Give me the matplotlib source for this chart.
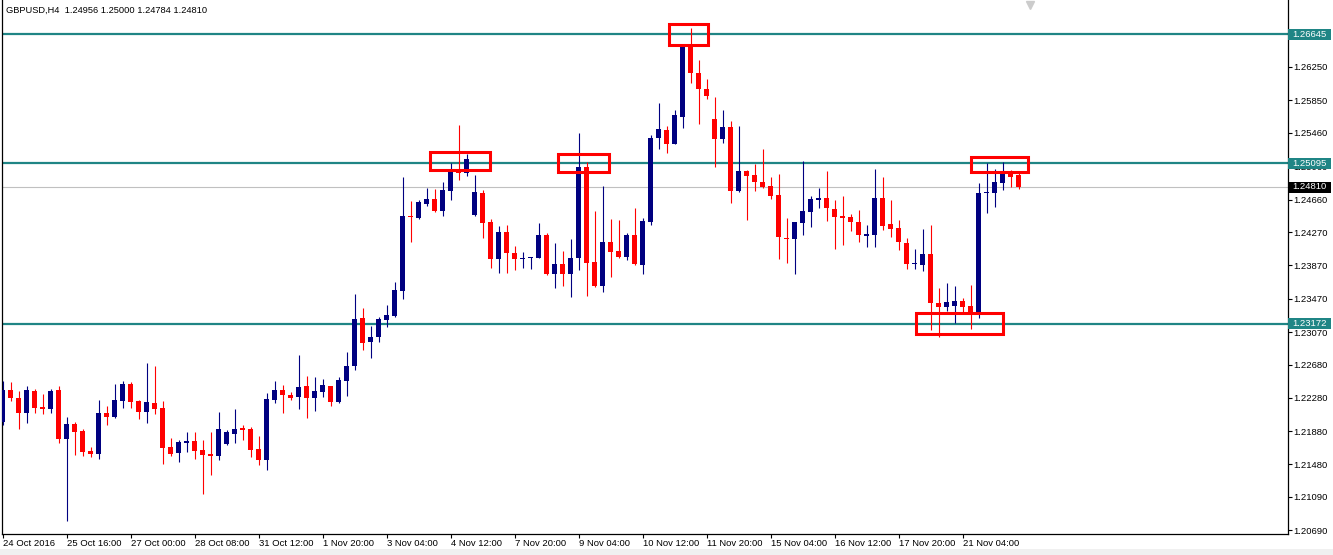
import numpy as np
import matplotlib
matplotlib.use("Agg")
import matplotlib.pyplot as plt
from matplotlib.patches import Rectangle
from matplotlib.transforms import blended_transform_factory

# ---- GBPUSD H4 candles (open, high, low, close) ----
opens = [
    1.21994, 1.22374, 1.22282, 1.22094, 1.22366, 1.22170, 1.22146, 1.22374, 1.21786, 1.21966,
    1.21886, 1.21646, 1.21602, 1.22102, 1.22054, 1.22246, 1.22446, 1.22242, 1.22114, 1.22214,
    1.22154, 1.21686, 1.21614, 1.21742, 1.21766, 1.21654, 1.21606, 1.21586, 1.21722, 1.21846,
    1.21914, 1.21910, 1.21670, 1.21530, 1.22254, 1.22374, 1.22314, 1.22286, 1.22422, 1.22282,
    1.22354, 1.22422, 1.22226, 1.22486, 1.22662, 1.23234, 1.22950, 1.23006, 1.23214, 1.23262,
    1.23566, 1.24462, 1.24434, 1.24606, 1.24666, 1.24526, 1.24766, 1.24994, 1.24974, 1.24474,
    1.24742, 1.24394, 1.23940, 1.24274, 1.24018, 1.23946, 1.23954, 1.23962, 1.24234, 1.23762,
    1.23886, 1.23762, 1.23954, 1.25046, 1.23904, 1.23626, 1.24154, 1.24042, 1.23970, 1.24234,
    1.23880, 1.24384, 1.25394, 1.25494, 1.25326, 1.25654, 1.26514, 1.26174, 1.25982, 1.25626,
    1.25382, 1.25534, 1.24766, 1.25002, 1.24954, 1.24874, 1.24822, 1.24714, 1.24202, 1.24182,
    1.24374, 1.24514, 1.24654, 1.24674, 1.24546, 1.24462, 1.24454, 1.24394, 1.24226, 1.24234,
    1.24682, 1.24366, 1.24314, 1.24142, 1.23882, 1.23874, 1.24006, 1.23414, 1.23374, 1.23386,
    1.23442, 1.23386, 1.23306, 1.24734, 1.24742, 1.24862, 1.24986, 1.24956,
]
highs = [
    1.22486, 1.22474, 1.22362, 1.22426, 1.22382, 1.22322, 1.22382, 1.22426, 1.22054, 1.21994,
    1.21902, 1.21686, 1.22254, 1.22182, 1.22442, 1.22486, 1.22474, 1.22254, 1.22702, 1.22666,
    1.22246, 1.21802, 1.21774, 1.21866, 1.21866, 1.21774, 1.21866, 1.22114, 1.21894, 1.22142,
    1.21954, 1.21926, 1.21822, 1.22342, 1.22486, 1.22434, 1.22354, 1.22794, 1.22542, 1.22534,
    1.22510, 1.22426, 1.22534, 1.22826, 1.23526, 1.23354, 1.23136, 1.23254, 1.23394, 1.23666,
    1.24926, 1.24646, 1.24654, 1.24794, 1.24786, 1.24874, 1.25094, 1.25554, 1.25202, 1.24954,
    1.24774, 1.24430, 1.24342, 1.24354, 1.24102, 1.24034, 1.23974, 1.24382, 1.24262, 1.24142,
    1.24042, 1.24182, 1.25462, 1.25114, 1.24522, 1.24826, 1.24426, 1.24414, 1.24262, 1.24554,
    1.24434, 1.25440, 1.25822, 1.25542, 1.25734, 1.26526, 1.26714, 1.26334, 1.26102, 1.25894,
    1.25734, 1.25606, 1.25542, 1.25014, 1.25086, 1.25266, 1.24934, 1.24966, 1.24442, 1.24394,
    1.25122, 1.24706, 1.24802, 1.25002, 1.24654, 1.24706, 1.24482, 1.24534, 1.24354, 1.25026,
    1.24934, 1.24654, 1.24414, 1.24194, 1.24066, 1.24302, 1.24354, 1.23602, 1.23662, 1.23622,
    1.23482, 1.23634, 1.24854, 1.25094, 1.25026, 1.25114, 1.25014, 1.25000,
]
lows = [
    1.21954, 1.22246, 1.21906, 1.21982, 1.22094, 1.22082, 1.22102, 1.21734, 1.20806, 1.21594,
    1.21586, 1.21574, 1.21546, 1.21954, 1.22038, 1.22162, 1.22162, 1.22022, 1.21982, 1.22086,
    1.21482, 1.21586, 1.21514, 1.21634, 1.21546, 1.21126, 1.21354, 1.21534, 1.21714, 1.21734,
    1.21774, 1.21566, 1.21474, 1.21414, 1.22214, 1.22094, 1.22254, 1.22146, 1.22042, 1.22122,
    1.22294, 1.22182, 1.22218, 1.22306, 1.22614, 1.22850, 1.22758, 1.22954, 1.23126, 1.23246,
    1.23462, 1.24154, 1.24422, 1.24582, 1.24514, 1.24466, 1.24654, 1.24894, 1.24946, 1.24466,
    1.24194, 1.23832, 1.23778, 1.23778, 1.23814, 1.23834, 1.23826, 1.23954, 1.23754, 1.23594,
    1.23622, 1.23494, 1.23820, 1.23508, 1.23614, 1.23554, 1.23734, 1.23958, 1.23934, 1.23874,
    1.23766, 1.24354, 1.25262, 1.25214, 1.25320, 1.25514, 1.26054, 1.25566, 1.25866, 1.25054,
    1.25334, 1.24614, 1.24754, 1.24414, 1.24762, 1.24794, 1.24666, 1.23946, 1.23902, 1.23766,
    1.24234, 1.24334, 1.24562, 1.24406, 1.24066, 1.24114, 1.24282, 1.24146, 1.24094, 1.24094,
    1.24294, 1.24206, 1.24054, 1.23822, 1.23826, 1.23802, 1.23094, 1.23006, 1.23322, 1.23174,
    1.23314, 1.23102, 1.23234, 1.24502, 1.24574, 1.24774, 1.24814, 1.24784,
]
closes = [
    1.22374, 1.22274, 1.22102, 1.22374, 1.22162, 1.22146, 1.22362, 1.21786, 1.21966, 1.21874,
    1.21634, 1.21606, 1.22102, 1.22054, 1.22254, 1.22446, 1.22234, 1.22114, 1.22234, 1.22146,
    1.21674, 1.21606, 1.21750, 1.21766, 1.21646, 1.21598, 1.21586, 1.21906, 1.21874, 1.21910,
    1.21898, 1.21658, 1.21530, 1.22266, 1.22374, 1.22310, 1.22282, 1.22406, 1.22282, 1.22362,
    1.22434, 1.22226, 1.22494, 1.22666, 1.23222, 1.22942, 1.23006, 1.23222, 1.23274, 1.23574,
    1.24462, 1.24446, 1.24634, 1.24666, 1.24526, 1.24774, 1.24994, 1.24974, 1.25142, 1.24754,
    1.24382, 1.23940, 1.24274, 1.24018, 1.23942, 1.23962, 1.23970, 1.24234, 1.23762, 1.23886,
    1.23762, 1.23962, 1.25046, 1.23904, 1.23626, 1.24154, 1.24034, 1.23970, 1.24234, 1.23882,
    1.24396, 1.25394, 1.25506, 1.25326, 1.25674, 1.26514, 1.26174, 1.25982, 1.25902, 1.25386,
    1.25534, 1.24766, 1.25002, 1.24946, 1.24874, 1.24806, 1.24706, 1.24206, 1.24182, 1.24386,
    1.24522, 1.24666, 1.24674, 1.24554, 1.24454, 1.24442, 1.24386, 1.24234, 1.24242, 1.24682,
    1.24346, 1.24306, 1.24154, 1.23882, 1.23902, 1.24006, 1.23414, 1.23374, 1.23426, 1.23442,
    1.23374, 1.23314, 1.24734, 1.24754, 1.24866, 1.24982, 1.24934, 1.24810,
]

# time axis labels, one every 8 bars
time_labels = ["24 Oct 2016", "25 Oct 16:00", "27 Oct 00:00", "28 Oct 08:00",
               "31 Oct 12:00", "1 Nov 20:00", "3 Nov 04:00", "4 Nov 12:00",
               "7 Nov 20:00", "9 Nov 04:00", "10 Nov 12:00", "11 Nov 20:00",
               "15 Nov 04:00", "16 Nov 12:00", "17 Nov 20:00", "21 Nov 04:00"]
label_step = 8

# price scale labels
price_ticks = [1.26250, 1.25850, 1.25460, 1.25060, 1.24660, 1.24270, 1.23870,
               1.23470, 1.23070, 1.22680, 1.22280, 1.21880, 1.21480, 1.21090, 1.20690]

# support / resistance levels and last price
levels = [1.26645, 1.25095, 1.23172]
last_price = 1.24810

# highlighted zones: bar range and price range
zone_start = [53.4, 69.4, 83.3, 114.1, 121.0]
zone_end = [60.9, 75.8, 88.1, 125.0, 128.1]
zone_low = [1.25014, 1.24994, 1.26514, 1.23046, 1.24994]
zone_high = [1.25226, 1.25206, 1.26762, 1.23294, 1.25174]

symbol_header = "GBPUSD,H4  1.24956 1.25000 1.24784 1.24810"

# ---- figure ----
W, H = 1333, 555
fig = plt.figure(figsize=(W / 100, H / 100), dpi=100)
fig.patch.set_facecolor("white")
fig.patches.append(Rectangle((0, 0), 1, 6 / H, transform=fig.transFigure,
                             facecolor="#f0f0f0", edgecolor="none", zorder=0))

ax_left, ax_right, ax_top, ax_bottom = 1.5, 1287.5, 0.0, 534.0
ax = fig.add_axes([ax_left / W, (H - ax_bottom) / H,
                   (ax_right - ax_left) / W, (ax_bottom - ax_top) / H])

FONT = "Liberation Sans"
FS = 6.8
BULL = "#000080"
BEAR = "#ff0000"
TEAL = "#1f8585"

o = np.array(opens); h = np.array(highs); l = np.array(lows); c = np.array(closes)
x = np.arange(len(o))
bull = c >= o
colors = np.where(bull, BULL, BEAR)

ax.vlines(x, l, h, colors=colors, linewidth=0.8, zorder=3)
body_bottom = np.minimum(o, c)
body_height = np.maximum(np.abs(c - o), 0.00011)
ax.bar(x, body_height, bottom=body_bottom, width=0.63, color=colors,
       linewidth=0, zorder=4)

# levels
for lv in levels:
    ax.axhline(lv, color=TEAL, linewidth=1.6, zorder=2)
ax.axhline(last_price, color="#c0c0c0", linewidth=0.8, zorder=1)

# highlighted zones
for xs, xe, lo, hi in zip(zone_start, zone_end, zone_low, zone_high):
    ax.add_patch(Rectangle((xs, lo), xe - xs, hi - lo, fill=False,
                           edgecolor="#ff0000", linewidth=2.2, zorder=6))

# scales: 8 px per bar, 0.00012 per px
px_per_bar = 8.0
x0_px = 2.7
ax.set_xlim((ax_left - x0_px) / px_per_bar, (ax_right - x0_px) / px_per_bar)
price_top = 1.27054
price_per_px = 0.00012
ax.set_ylim(price_top - price_per_px * ax_bottom, price_top - price_per_px * ax_top)

# x axis
ax.set_xticks(np.arange(len(time_labels)) * label_step)
ax.set_xticklabels(time_labels, fontsize=FS, family=FONT)
for t in ax.get_xticklabels():
    t.set_horizontalalignment("left")
ax.tick_params(axis="x", direction="out", length=3, width=0.8, pad=0.6, color="black")

# y axis on the right
ax.yaxis.tick_right()
ax.set_yticks(price_ticks)
ax.set_yticklabels([f"{p:.5f}" for p in price_ticks], fontsize=FS, family=FONT)
ax.tick_params(axis="y", direction="out", length=3, width=0.8, pad=1.5, color="black")

for s in ["left", "bottom", "right"]:
    ax.spines[s].set_color("black")
    ax.spines[s].set_linewidth(0.9)
ax.spines["top"].set_visible(False)

# price tags on the right scale
tr = blended_transform_factory(ax.transAxes, ax.transData)
tag_w = 43 / (ax_right - ax_left)
tag_h = 11 * price_per_px
for price, bg in [(lv, TEAL) for lv in levels] + [(last_price, "black")]:
    ax.add_patch(Rectangle((1.0 + 0.5 / (ax_right - ax_left), price - tag_h / 2),
                           tag_w, tag_h, transform=tr, facecolor=bg,
                           edgecolor="none", clip_on=False, zorder=10))
    ax.text(1.0 + 4.5 / (ax_right - ax_left), price, f"{price:.5f}", transform=tr,
            color="white", fontsize=FS, family=FONT, ha="left", va="center",
            clip_on=False, zorder=11)

# chart shift marker
ax.plot([(1030 - ax_left) / (ax_right - ax_left)], [1 - 5 / ax_bottom],
        marker="v", markersize=6, color="#cccccc", transform=ax.transAxes,
        clip_on=False, zorder=5)

fig.text(6 / W, 1 - 10 / H, symbol_header, fontsize=6.7, family=FONT,
         ha="left", va="center", color="black")

fig.savefig("out.png", dpi=100)
